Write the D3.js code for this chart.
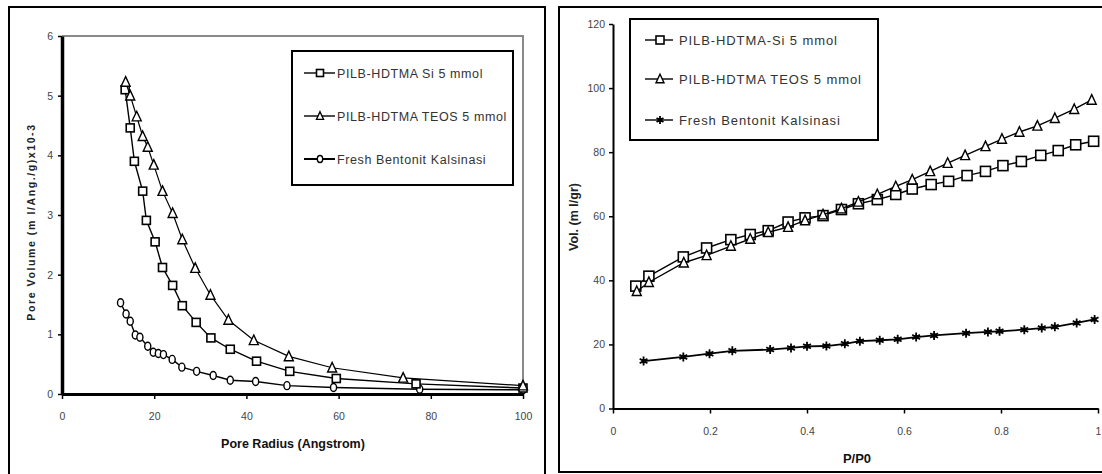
<!DOCTYPE html>
<html><head><meta charset="utf-8">
<script src="https://cdn.jsdelivr.net/npm/d3@7"></script>
<style>
html,body{margin:0;padding:0;background:#fff;}
svg{display:block;font-family:Arial,"Liberation Sans",sans-serif;}
</style></head>
<body>
<svg id="c" width="1102" height="474"></svg>
<script>
// ---------- Left chart data: pore size distribution ----------
const poreRadiusSi = [13.7,14.8,15.7,17.5,18.3,20.2,21.8,24.0,26.1,29.1,32.3,36.5,42.2,49.4,59.5,76.8,100];
const poreVolSi    = [5.10,4.46,3.90,3.40,2.91,2.55,2.12,1.82,1.48,1.20,0.94,0.75,0.55,0.38,0.26,0.17,0.10];
const poreRadiusTeos = [13.8,14.8,16.2,17.5,18.6,19.9,21.8,24.0,26.1,28.9,32.2,36.1,41.6,49.2,58.6,74.0,100];
const poreVolTeos    = [5.23,5.00,4.65,4.32,4.14,3.84,3.40,3.03,2.59,2.11,1.66,1.24,0.90,0.63,0.44,0.27,0.14];
const poreRadiusFresh = [12.7,13.9,14.8,15.9,16.9,18.6,19.8,20.9,22.0,23.9,26.0,29.2,32.8,36.5,42.0,48.8,58.9,77.6,100];
const poreVolFresh    = [1.53,1.34,1.22,0.99,0.95,0.80,0.70,0.68,0.66,0.58,0.45,0.38,0.31,0.23,0.21,0.14,0.11,0.08,0.07];
const leftXTicks = [0,20,40,60,80,100];
const leftYTicks = [0,1,2,3,4,5,6];
const leftLegend = ["PILB-HDTMA Si 5  mmol","PILB-HDTMA TEOS 5 mmol","Fresh Bentonit Kalsinasi"];
const leftXTitle = "Pore Radius (Angstrom)";
const leftYTitle = "Pore Volume (m l/Ang./g)x10-3";

// ---------- Right chart data: adsorption isotherm ----------
const pSi   = [0.047,0.074,0.145,0.193,0.243,0.283,0.320,0.361,0.396,0.433,0.471,0.506,0.545,0.583,0.617,0.656,0.692,0.730,0.768,0.804,0.842,0.882,0.918,0.954,0.991];
const volSi = [38.2,41.3,47.3,50.1,52.7,54.3,55.5,58.2,59.5,60.2,62.1,63.9,65.2,66.8,68.5,69.9,70.9,72.7,74.0,75.8,77.1,79.0,80.5,82.3,83.4];
const pTeos   = [0.049,0.074,0.146,0.193,0.243,0.283,0.320,0.361,0.396,0.433,0.471,0.506,0.545,0.583,0.617,0.654,0.690,0.726,0.768,0.802,0.838,0.875,0.911,0.951,0.987];
const volTeos = [36.6,39.4,45.5,47.8,50.7,52.9,55.0,56.6,58.7,60.5,62.4,64.5,66.8,69.3,71.4,74.0,76.6,79.0,81.8,84.1,86.3,88.2,90.6,93.4,96.3];
const pFresh   = [0.063,0.145,0.199,0.246,0.324,0.367,0.400,0.440,0.478,0.509,0.550,0.587,0.625,0.662,0.728,0.773,0.797,0.848,0.884,0.911,0.956,0.993];
const volFresh = [14.8,16.1,17.1,18.0,18.4,18.9,19.4,19.5,20.2,21.0,21.3,21.6,22.3,22.8,23.5,23.9,24.1,24.6,25.1,25.5,26.7,27.8];
const rightXTicks = [0,0.2,0.4,0.6,0.8,1];
const rightYTicks = [0,20,40,60,80,100,120];
const rightLegend = ["PILB-HDTMA-Si 5 mmol","PILB-HDTMA TEOS 5  mmol","Fresh Bentonit  Kalsinasi"];
const rightXTitle = "P/P0";
const rightYTitle = "Vol. (m l/gr)";

const svg = d3.select("#c");

// panel borders
svg.append("rect").attr("x",9).attr("y",7).attr("width",536).attr("height",480)
  .attr("fill","none").attr("stroke","#000").attr("stroke-width",2);
svg.append("rect").attr("x",559).attr("y",7).attr("width",560).attr("height",465)
  .attr("fill","none").attr("stroke","#000").attr("stroke-width",2);

// marker painters
function drawMarker(g, type, x, y, s) {
  if (type === "square") {
    g.append("rect").attr("x",x-s/2).attr("y",y-s/2).attr("width",s).attr("height",s)
      .attr("fill","#fff").attr("stroke","#000").attr("stroke-width",1.6);
  } else if (type === "triangle") {
    const h = s*0.95;
    g.append("path").attr("d",`M${x},${y-h/2-1}L${x+s/2},${y+h/2}L${x-s/2},${y+h/2}Z`)
      .attr("fill","#fff").attr("stroke","#000").attr("stroke-width",1.4);
  } else if (type === "circle") {
    g.append("ellipse").attr("cx",x).attr("cy",y).attr("rx",s*0.38).attr("ry",s*0.5)
      .attr("fill","#fff").attr("stroke","#000").attr("stroke-width",1.4);
  } else if (type === "star") {
    const r = s/2;
    const p = [];
    for (let k=0;k<3;k++){ const a = Math.PI/2 + k*Math.PI/3;
      p.push(`M${x-r*Math.cos(a)},${y-r*Math.sin(a)}L${x+r*Math.cos(a)},${y+r*Math.sin(a)}`); }
    g.append("path").attr("d",p.join("")).attr("stroke","#000").attr("stroke-width",1.8).attr("fill","none");
    g.append("rect").attr("x",x-2).attr("y",y-2).attr("width",4).attr("height",4).attr("fill","#000");
  }
}

function drawSeries(g, xs, ys, xScale, yScale, type, size, lw) {
  const pts = xs.map((v,i)=>[xScale(v), yScale(ys[i])]);
  g.append("path").attr("d", d3.line()(pts)).attr("fill","none").attr("stroke","#000").attr("stroke-width",lw);
  pts.forEach(p => drawMarker(g, type, p[0], p[1], size));
}

function styleAxis(a, color) {
  a.selectAll("text").attr("fill",color).style("font-size","10.5px").style("font-family","Arial,'Liberation Sans',sans-serif");
}

// ================= LEFT CHART =================
const lx = d3.scaleLinear().domain([0,100]).range([62,523]);
const ly = d3.scaleLinear().domain([0,6]).range([394,36]);
const L = svg.append("g");
// gray frame top/right
L.append("path").attr("d",`M${lx(0)},${ly(6)}H${lx(100)}V${ly(0)}`).attr("fill","none").attr("stroke","#8a8a8a").attr("stroke-width",2);

drawSeries(L, poreRadiusFresh, poreVolFresh, lx, ly, "circle", 8, 1.4);
drawSeries(L, poreRadiusSi, poreVolSi, lx, ly, "square", 8, 1.4);
drawSeries(L, poreRadiusTeos, poreVolTeos, lx, ly, "triangle", 9, 1.2);

const lxa = L.append("g").attr("transform",`translate(0,${ly(0)})`)
  .call(d3.axisBottom(lx).tickValues(leftXTicks).tickFormat(d3.format("d")).tickSize(5).tickPadding(14).tickSizeOuter(0));
lxa.select(".domain").attr("stroke-width",3);
lxa.selectAll(".tick line").attr("stroke-width",1.5);
styleAxis(lxa,"#444");
const lya = L.append("g").attr("transform",`translate(${lx(0)},0)`)
  .call(d3.axisLeft(ly).tickValues(leftYTicks).tickFormat(d3.format("d")).tickSize(4).tickPadding(5).tickSizeOuter(0));
lya.select(".domain").attr("stroke-width",3.5);
lya.selectAll(".tick line").attr("stroke-width",1.5);
styleAxis(lya,"#444");

L.append("text").attr("x",293).attr("y",448).attr("text-anchor","middle")
  .style("font-size","12.5px").style("font-weight","bold").attr("fill","#111").text(leftXTitle);
L.append("text").attr("transform","translate(35,222) rotate(-90)").attr("text-anchor","middle")
  .style("font-size","10.5px").style("font-weight","bold").style("letter-spacing","1.6px").attr("fill","#222").text(leftYTitle);

// left legend
L.append("rect").attr("x",292).attr("y",51).attr("width",221).attr("height",134)
  .attr("fill","#fff").attr("stroke","#000").attr("stroke-width",2);
const lTypes = ["square","triangle","circle"];
[73,116,159].forEach((yy,i)=>{
  L.append("line").attr("x1",304).attr("x2",335).attr("y1",yy).attr("y2",yy).attr("stroke","#000").attr("stroke-width",i===2?2:1.4);
  drawMarker(L, lTypes[i], 320, yy, 7);
  L.append("text").attr("x",337).attr("y",yy+4.5).style("font-size","12.5px").style("letter-spacing","0.6px").attr("fill","#333").text(leftLegend[i]);
});

// ================= RIGHT CHART =================
const rx = d3.scaleLinear().domain([0,1]).range([613,1098]);
const ry = d3.scaleLinear().domain([0,120]).range([408.5,24]);
const R = svg.append("g");

drawSeries(R, pFresh, volFresh, rx, ry, "star", 9, 1.8);
drawSeries(R, pSi, volSi, rx, ry, "square", 10, 1.4);
drawSeries(R, pTeos, volTeos, rx, ry, "triangle", 9, 1.4);

const rxa = R.append("g").attr("transform",`translate(0,${ry(0)})`)
  .call(d3.axisBottom(rx).tickValues(rightXTicks).tickFormat(d3.format("~g")).tickSize(5).tickPadding(14).tickSizeOuter(0));
rxa.select(".domain").attr("stroke-width",2);
rxa.selectAll(".tick line").attr("stroke-width",1.5);
styleAxis(rxa,"#444");
const rya = R.append("g").attr("transform",`translate(${rx(0)},0)`)
  .call(d3.axisLeft(ry).tickValues(rightYTicks).tickFormat(d3.format("d")).tickSize(4).tickPadding(4).tickSizeOuter(0));
rya.select(".domain").attr("stroke-width",2);
rya.selectAll(".tick line").attr("stroke-width",1.5);
styleAxis(rya,"#444");

R.append("text").attr("x",857).attr("y",463).attr("text-anchor","middle")
  .style("font-size","13px").style("font-weight","bold").attr("fill","#111").text(rightXTitle);
R.append("text").attr("transform","translate(578,217) rotate(-90)").attr("text-anchor","middle")
  .style("font-size","12.5px").style("font-weight","bold").attr("fill","#222").text(rightYTitle);

// right legend
R.append("rect").attr("x",630).attr("y",19).attr("width",248).attr("height",121)
  .attr("fill","#fff").attr("stroke","#000").attr("stroke-width",2);
const rTypes = ["square","triangle","star"];
[40,79,120].forEach((yy,i)=>{
  R.append("line").attr("x1",645).attr("x2",673).attr("y1",yy).attr("y2",yy).attr("stroke","#000").attr("stroke-width",1.4);
  drawMarker(R, rTypes[i], 660, yy, 8);
  R.append("text").attr("x",679).attr("y",yy+5).style("font-size","13px").style("letter-spacing","0.9px").attr("fill","#333").text(rightLegend[i]);
});
</script>
</body></html>
